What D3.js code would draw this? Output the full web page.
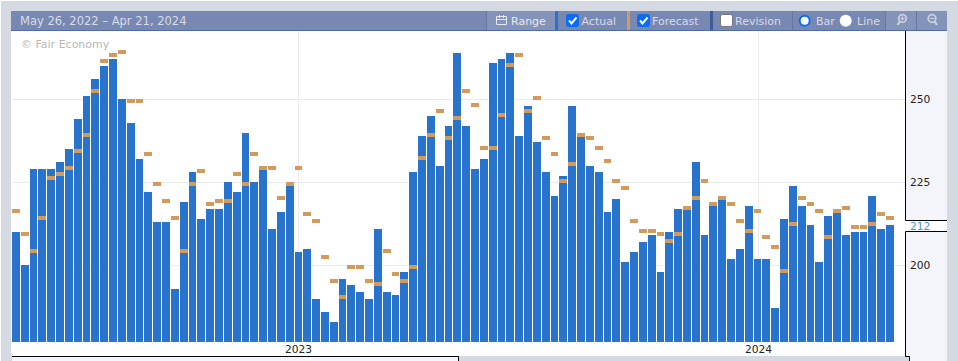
<!DOCTYPE html>
<html>
<head>
<meta charset="utf-8">
<script src="https://cdn.jsdelivr.net/npm/d3@7"></script>
<style>
  html, body { margin: 0; padding: 0; background: #fff; overflow: hidden; }
  svg { display: block; font-family: "DejaVu Sans", sans-serif; }
</style>
</head>
<body>
<div id="chart"></div>
<script>
const title = "May 26, 2022 – Apr 21, 2024";
const actual = [
  210, 200, 229, 229, 229, 231, 235, 244, 251, 256, 260, 262, 250, 243, 232, 222, 213, 213, 193, 219,
  228, 214, 217, 217, 225, 222, 240, 225, 229, 211, 216, 225, 204, 205, 190, 186, 183, 196, 194, 192,
  190, 211, 192, 191, 198, 228, 239, 245, 230, 242, 264, 242, 229, 232, 261, 262, 264, 239, 248, 237,
  228, 221, 227, 248, 240, 230, 228, 216, 220, 201, 204, 207, 209, 198, 210, 217, 217, 231, 209, 218,
  220, 202, 205, 218, 202, 202, 187, 214, 224, 218, 212, 201, 215, 216, 209, 210, 210, 221, 211, 212
];
const forecast = [
  217, 210, 205, 215, 227, 228, 230, 235, 240, 253, 262, 264, 265, 250, 250, 234, 225, 220, 215, 205,
  225, 229, 219, 220, 220, 228, 225, 234, 230, 230, 221, 225, 230, 216, 214, 203, 196, 191, 200, 200,
  196, 195, 205, 198, 196, 200, 233, 240, 247, 239, 245, 253, 249, 236, 236, 246, 261, 264, 247, 251,
  239, 234, 226, 231, 240, 239, 236, 232, 226, 224, 214, 211, 211, 210, 208, 210, 218, 221, 226, 219,
  221, 219, 214, 211, 217, 209, 206, 199, 213, 221, 219, 217, 209, 217, 218, 212, 212, 213, 216, 215
];
const yTicks = [200, 225, 250];
const yearTicks = [{ index: 32, label: "2023" }, { index: 84, label: "2024" }];
const lastLabel = "212";

const W = 958, H = 361;
const plot = { left: 12, right: 894, top: 31, bottom: 342 };

const svg = d3.select("#chart").append("svg").attr("width", W).attr("height", H);

// page frame
svg.append("rect").attr("width", W).attr("height", H).attr("fill", "#d5d9e2");
svg.append("rect").attr("x", 0).attr("y", 0).attr("width", W).attr("height", 1).attr("fill", "#fff");
svg.append("rect").attr("x", 0).attr("y", 0).attr("width", 1).attr("height", H).attr("fill", "#fff");
svg.append("rect").attr("x", 11).attr("y", 31).attr("width", 894).attr("height", 325).attr("fill", "#fff");
svg.append("rect").attr("x", 905).attr("y", 31).attr("width", 42).attr("height", 330).attr("fill", "#f4f5fa");
svg.append("rect").attr("x", 905).attr("y", 357).attr("width", 4).attr("height", 4).attr("fill", "#d5d9e2");

const x = d3.scaleBand()
  .domain(d3.range(actual.length))
  .range([plot.left, plot.right])
  .paddingInner(0.1).paddingOuter(0);

const y = d3.scaleLinear().domain([176.9, 270.7]).range([plot.bottom, 30.6]);

// bars sit on whole pixels with a one pixel gap
const barX = i => Math.round(x(i));
const barW = i => Math.max(7, Math.round(x(i) + x.step()) - barX(i) - 1);

// grid
const grid = svg.append("g").attr("stroke", "#eaebf2").attr("stroke-width", 1);
grid.selectAll("line.h").data(yTicks).enter().append("line").attr("class", "h")
  .attr("x1", 12).attr("x2", 905)
  .attr("y1", d => Math.floor(y(d)) + 0.5).attr("y2", d => Math.floor(y(d)) + 0.5);
grid.selectAll("line.v").data(yearTicks).enter().append("line").attr("class", "v")
  .attr("x1", d => Math.round(x(d.index) + x.bandwidth() / 2) + 0.5)
  .attr("x2", d => Math.round(x(d.index) + x.bandwidth() / 2) + 0.5)
  .attr("y1", 31).attr("y2", 342);

svg.append("text").attr("x", 21).attr("y", 48)
  .attr("font-size", 11).attr("fill", "#b8b8b8").text("© Fair Economy");

// bars
svg.append("g").selectAll("rect").data(actual).enter().append("rect")
  .attr("x", (d, i) => barX(i))
  .attr("y", d => Math.round(y(d)))
  .attr("width", (d, i) => barW(i))
  .attr("height", d => plot.bottom - Math.round(y(d)))
  .attr("fill", "#2874cc");

// forecast ticks
svg.append("g").selectAll("rect").data(forecast).enter().append("rect")
  .attr("x", (d, i) => barX(i))
  .attr("y", d => Math.round(y(d)))
  .attr("width", (d, i) => barW(i))
  .attr("height", 4)
  .attr("fill", "#d49a5c");

// year labels
svg.append("g").selectAll("text").data(yearTicks).enter().append("text")
  .attr("x", d => Math.round(x(d.index) + x.bandwidth() / 2) + 0.5)
  .attr("y", 353)
  .attr("text-anchor", "middle")
  .attr("font-size", 10.67)
  .attr("fill", "#222")
  .text(d => d.label);

// bottom strip
svg.append("rect").attr("x", 12).attr("y", 356).attr("width", 446).attr("height", 5).attr("fill", "#f4f5fa");
svg.append("path").attr("d", "M12,356.5H458.5V361").attr("fill", "none").attr("stroke", "#000");

// right axis
const axis = d3.axisRight(y).tickValues(yTicks).tickSize(0).tickPadding(5);
const axisG = svg.append("g").attr("transform", "translate(905,-0.5)").call(axis);
axisG.select(".domain").remove();
axisG.selectAll("text").attr("font-size", 10.67).attr("fill", "#222").attr("font-family", "DejaVu Sans");

svg.append("rect").attr("x", 906).attr("y", 221).attr("width", 41).attr("height", 10).attr("fill", "#fff");
svg.append("path")
  .attr("d", "M905.5,31V220.5H947M947,231.5H905.5V356.5H909.5V361")
  .attr("fill", "none").attr("stroke", "#000");
svg.append("text").attr("x", 910).attr("y", 230).attr("font-size", 10.67).attr("fill", "#4a90e2").text(lastLabel);

// header bar
const bar = svg.append("g");
bar.append("rect").attr("x", 11).attr("y", 11).attr("width", 936).attr("height", 19).attr("fill", "#7788b3");
bar.append("rect").attr("x", 11).attr("y", 30).attr("width", 936).attr("height", 1).attr("fill", "#4a6cab");
bar.append("text").attr("x", 20).attr("y", 25).attr("font-size", 11.5).attr("fill", "#d8dce8").text(title);

// header buttons
bar.append("rect").attr("x", 487).attr("y", 11).attr("width", 68).attr("height", 19).attr("fill", "#8393ba");
bar.append("rect").attr("x", 885).attr("y", 11).attr("width", 62).attr("height", 19).attr("fill", "#8393ba");
bar.append("rect").attr("x", 555).attr("y", 11).attr("width", 3).attr("height", 19).attr("fill", "#2874cc");
bar.append("rect").attr("x", 627).attr("y", 11).attr("width", 3).attr("height", 19).attr("fill", "#d49a5c");
bar.append("rect").attr("x", 710).attr("y", 11).attr("width", 3).attr("height", 19).attr("fill", "#3f5c9a");
const sepX = [486, 792, 885, 916];
bar.selectAll("line.sep").data(sepX).enter().append("line").attr("class", "sep")
  .attr("x1", d => d + 0.5).attr("x2", d => d + 0.5).attr("y1", 11).attr("y2", 30)
  .attr("stroke", "#6478a8");

// range icon
bar.append("path").attr("d", "M496.5,16.5H506.5V24.5H496.5ZM496.5,19.5H506.5M499.5,15V18M503.5,15V18")
  .attr("fill", "none").attr("stroke", "#e6e9f1");

const labels = [
  { text: "Range", x: 511, color: "#e6e9f1" },
  { text: "Actual", x: 581.5, color: "#d8dce8" },
  { text: "Forecast", x: 652, color: "#d8dce8" },
  { text: "Revision", x: 735, color: "#d8dce8" },
  { text: "Bar", x: 816, color: "#d8dce8" },
  { text: "Line", x: 857, color: "#d8dce8" }
];
bar.selectAll("text.lab").data(labels).enter().append("text").attr("class", "lab")
  .attr("x", d => d.x).attr("y", 25).attr("font-size", 11).attr("fill", d => d.color).text(d => d.text);

// checkboxes
const boxes = [{ x: 566, on: true }, { x: 637, on: true }, { x: 720, on: false }];
boxes.forEach(b => {
  bar.append("rect").attr("x", b.x + 0.5).attr("y", 14.5).attr("width", 12).attr("height", 12).attr("rx", 2)
    .attr("fill", b.on ? "#0a6cf5" : "#fff").attr("stroke", b.on ? "#0a6cf5" : "#777");
  if (b.on) {
    bar.append("path").attr("d", `M${b.x + 3},${20.5}l2.5,3l5,-6`).attr("fill", "none")
      .attr("stroke", "#fff").attr("stroke-width", 2);
  }
});

// radios
bar.append("circle").attr("cx", 804.7).attr("cy", 20.7).attr("r", 5).attr("fill", "#fff").attr("stroke", "#0a6cf5").attr("stroke-width", 2);
bar.append("circle").attr("cx", 845.7).attr("cy", 20.7).attr("r", 6).attr("fill", "#fff");

// zoom icons
const zoomIcons = [{ cx: 902.5, hx: 897.5, plus: true }, { cx: 932, hx: 937, plus: false }];
zoomIcons.forEach(z => {
  const g = bar.append("g").attr("stroke", "#c9d0e2").attr("fill", "none");
  g.append("circle").attr("cx", z.cx).attr("cy", 18.5).attr("r", 3.8).attr("stroke-width", 1.8);
  g.append("line").attr("x1", z.cx + (z.hx - z.cx) * 0.55).attr("y1", 21.5).attr("x2", z.hx).attr("y2", 25)
    .attr("stroke-width", 2.2);
  g.append("line").attr("x1", z.cx - 2).attr("x2", z.cx + 2).attr("y1", 18.5).attr("y2", 18.5).attr("stroke-width", 1.2);
  if (z.plus) g.append("line").attr("x1", z.cx).attr("x2", z.cx).attr("y1", 16.5).attr("y2", 20.5).attr("stroke-width", 1.2);
});
</script>
</body>
</html>
